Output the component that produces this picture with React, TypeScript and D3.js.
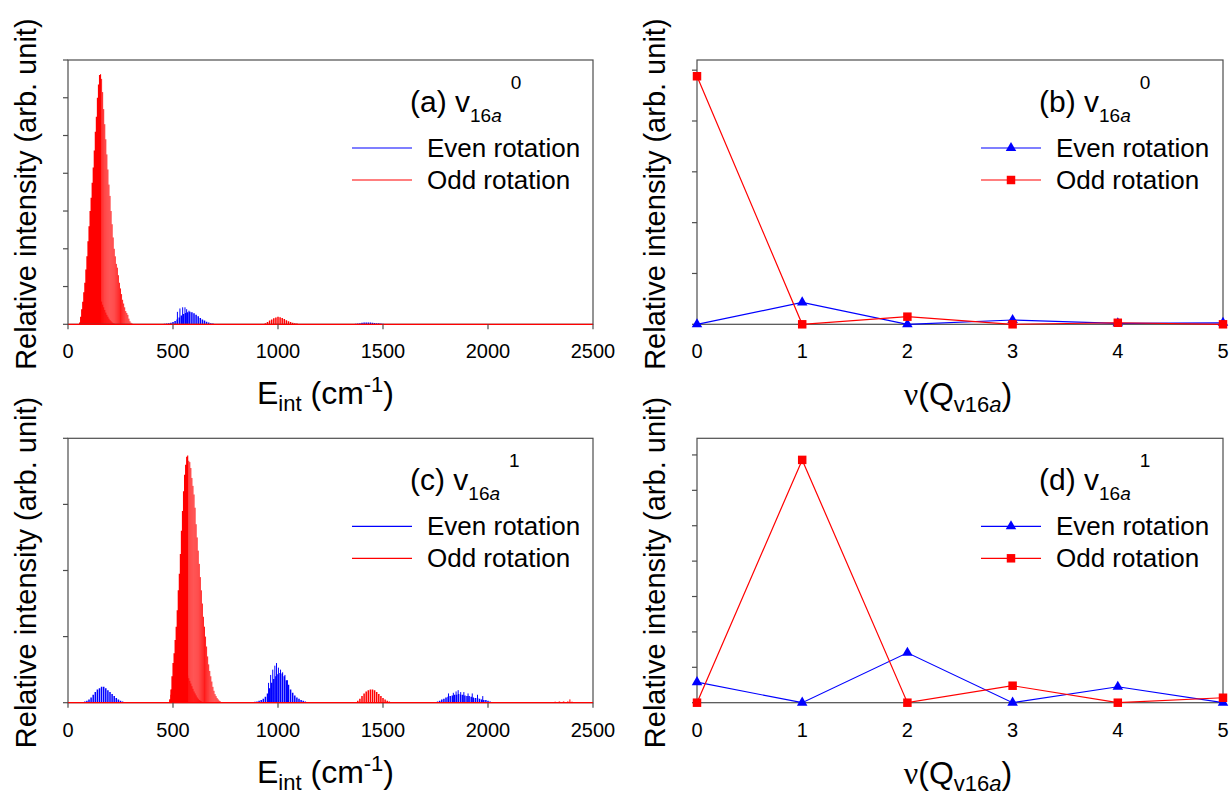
import React from 'react';
import * as d3 from 'd3';

const BLUE = '#0000ff';
const RED = '#ff0000';
const AXIS = '#4d4d4d';
const FONT = "'Liberation Sans', Arial, sans-serif";

// ---------- tick labels ----------
const energyTicks = [0, 500, 1000, 1500, 2000, 2500];
const quantumTicks = [0, 1, 2, 3, 4, 5];

// ---------- panel (a): v16a^0 stick spectra (heights in arb. units) ----------
// odd rotation, main band, 50..310 cm-1 every 5 cm-1
const oddA_main = [0, 0.05, 0.2, 0.4, 0.6, 0.85, 1.1, 1.45, 1.8, 2.2, 2.6, 3.0, 3.35, 3.75, 4.15, 4.6, 5.1, 5.5, 6.0, 6.35, 6.6, 6.62, 6.5, 6.15, 5.7, 5.3, 4.9, 4.5, 4.1, 3.7, 3.4, 3.0, 2.65, 2.3, 2.0, 1.8, 1.6, 1.5, 1.3, 1.1, 0.95, 0.8, 0.65, 0.55, 0.45, 0.35, 0.3, 0.25, 0.15, 0.08, 0.04, 0.02, 0];
// odd rotation, dense low component, 55..230 cm-1 every 5 cm-1
const oddA_base = [0, 0.05, 0.12, 0.2, 0.28, 0.36, 0.45, 0.52, 0.6, 0.66, 0.72, 0.78, 0.83, 0.87, 0.9, 0.9, 0.88, 0.85, 0.8, 0.74, 0.68, 0.6, 0.52, 0.45, 0.38, 0.31, 0.25, 0.2, 0.15, 0.11, 0.08, 0.05, 0.03, 0.02, 0.01, 0];
// odd rotation, 930..1100 cm-1 every 10 cm-1
const oddA_1000 = [0, 0.03, 0.06, 0.1, 0.13, 0.16, 0.18, 0.2, 0.19, 0.17, 0.14, 0.11, 0.08, 0.06, 0.04, 0.03, 0.02, 0.01];
// even rotation, 450..700 cm-1 every 10 cm-1
const evenA_560 = [0.01, 0.015, 0.02, 0.03, 0.04, 0.06, 0.09, 0.13, 0.18, 0.23, 0.27, 0.3, 0.32, 0.33, 0.32, 0.29, 0.25, 0.21, 0.17, 0.13, 0.1, 0.07, 0.05, 0.03, 0.02, 0.01];
// even rotation, 1360..1540 cm-1 every 10 cm-1
const evenA_1420 = [0.01, 0.015, 0.02, 0.03, 0.04, 0.045, 0.05, 0.05, 0.045, 0.04, 0.035, 0.03, 0.025, 0.02, 0.015, 0.01, 0.01, 0.005, 0.005];
// even rotation, isolated tall lines [cm-1, height]
const evenA_tall: [number, number][] = [[521, 0.33], [533, 0.42], [546, 0.45], [557, 0.45], [565, 0.4], [576, 0.36]];

// ---------- panel (c): v16a^1 stick spectra ----------
// odd rotation, main band, 480..735 every 5
const oddC_main = [0, 0.05, 0.2, 0.4, 0.6, 0.75, 0.95, 1.15, 1.4, 1.7, 1.95, 2.25, 2.6, 2.9, 3.2, 3.45, 3.6, 3.72, 3.74, 3.66, 3.64, 3.55, 3.4, 3.28, 3.15, 2.95, 2.7, 2.5, 2.3, 2.1, 1.9, 1.7, 1.5, 1.3, 1.15, 1.0, 0.85, 0.7, 0.58, 0.48, 0.4, 0.32, 0.24, 0.18, 0.13, 0.1, 0.07, 0.05, 0.03, 0.02, 0.01, 0];
// odd rotation, dense low component, 485..645 every 5
const oddC_base = [0.05, 0.12, 0.2, 0.26, 0.31, 0.35, 0.39, 0.42, 0.45, 0.47, 0.49, 0.5, 0.5, 0.5, 0.49, 0.47, 0.44, 0.41, 0.37, 0.33, 0.29, 0.25, 0.21, 0.17, 0.14, 0.11, 0.08, 0.06, 0.04, 0.03, 0.02, 0.01, 0];
// odd rotation, 1370..1540 every 10
const oddC_1440 = [0.01, 0.03, 0.06, 0.1, 0.14, 0.17, 0.19, 0.2, 0.2, 0.19, 0.16, 0.13, 0.1, 0.07, 0.05, 0.03, 0.02, 0.01];
// odd rotation, 2280..2420 every 20
const oddC_2350 = [0.005, 0.01, 0.015, 0.02, 0.02, 0.02, 0.015, 0.01];
const oddC_tall: [number, number][] = [[2390, 0.05]];
// even rotation, 60..280 every 10
const evenC_165 = [0.005, 0.01, 0.02, 0.03, 0.05, 0.08, 0.12, 0.16, 0.2, 0.22, 0.24, 0.24, 0.22, 0.19, 0.16, 0.13, 0.1, 0.07, 0.05, 0.03, 0.02, 0.01, 0.005];
// even rotation, 870..1150 every 10
const evenC_1010 = [0.005, 0.01, 0.015, 0.02, 0.03, 0.04, 0.06, 0.09, 0.14, 0.22, 0.3, 0.36, 0.4, 0.43, 0.45, 0.44, 0.4, 0.34, 0.27, 0.2, 0.15, 0.11, 0.08, 0.06, 0.04, 0.03, 0.02, 0.01, 0.005];
// even rotation, 1750..2020 every 10
const evenC_1860 = [0.01, 0.02, 0.03, 0.05, 0.06, 0.08, 0.09, 0.1, 0.11, 0.12, 0.12, 0.13, 0.12, 0.12, 0.11, 0.1, 0.1, 0.09, 0.08, 0.07, 0.07, 0.06, 0.05, 0.04, 0.04, 0.03, 0.02, 0.01];
const evenC_tall: [number, number][] = [[955, 0.3], [965, 0.42], [975, 0.5], [985, 0.56], [993, 0.6], [1002, 0.53], [1012, 0.5], [1022, 0.46], [1033, 0.42], [1045, 0.34], [1812, 0.14], [1835, 0.15], [1848, 0.17], [1858, 0.19], [1870, 0.16], [1885, 0.16], [1905, 0.14], [1925, 0.14], [1950, 0.12], [1975, 0.1]];

// ---------- panels (b), (d): populations vs v(Q_v16a) ----------
const evenB = [0, 0.43, 0, 0.085, 0.02, 0.03];
const oddB = [4.88, 0, 0.15, 0, 0.03, 0];
const evenD = [0.58, 0, 1.41, 0, 0.45, 0];
const oddD = [0, 6.86, 0, 0.48, 0, 0.14];

type Band = { series: 'even' | 'odd'; start: number; step: number; h: number[] };

const bandsA: Band[] = [
  { series: 'even', start: 450, step: 10, h: evenA_560 },
  { series: 'even', start: 1360, step: 10, h: evenA_1420 },
  { series: 'odd', start: 50, step: 5, h: oddA_main },
  { series: 'odd', start: 55, step: 5, h: oddA_base },
  { series: 'odd', start: 930, step: 10, h: oddA_1000 },
];
const bandsC: Band[] = [
  { series: 'even', start: 60, step: 10, h: evenC_165 },
  { series: 'even', start: 870, step: 10, h: evenC_1010 },
  { series: 'even', start: 1750, step: 10, h: evenC_1860 },
  { series: 'odd', start: 480, step: 5, h: oddC_main },
  { series: 'odd', start: 485, step: 5, h: oddC_base },
  { series: 'odd', start: 1370, step: 10, h: oddC_1440 },
  { series: 'odd', start: 2280, step: 20, h: oddC_2350 },
];

const LEFT = { x0: 68, x1: 593 };
const RIGHT = { x0: 697, x1: 1223 };
const TOP = { y0: 60, y1: 324.3 };
const BOTTOM = { y0: 438.3, y1: 702.7 };

function Title({ x, y, letter, sup }: { x: number; y: number; letter: string; sup: string }) {
  return (
    <text x={x} y={y} fontSize={30} fill="#000">
      {`(${letter}) v`}
      <tspan fontSize={19} dy={10}>
        16<tspan fontStyle="italic">a</tspan>
      </tspan>
      <tspan fontSize={19} dy={-33} dx={9}>{sup}</tspan>
    </text>
  );
}

function YLabel({ x0, y0, y1 }: { x0: number; y0: number; y1: number }) {
  return (
    <text transform={`translate(${x0 - 32},${(y0 + y1) / 2 + 2}) rotate(-90)`} textAnchor="middle" fontSize={29}>
      Relative intensity (arb. unit)
    </text>
  );
}

function Legend({ x0, y0, markers }: { x0: number; y0: number; markers: boolean }) {
  const tri = d3.symbol(d3.symbolTriangle, 48)() as string;
  const sq = d3.symbol(d3.symbolSquare, 72)() as string;
  const items = [
    { label: 'Even rotation', color: BLUE, yy: y0 + 88, m: tri },
    { label: 'Odd rotation', color: RED, yy: y0 + 120, m: sq },
  ];
  return (
    <g>
      {items.map((it) => (
        <g key={it.label}>
          <line x1={x0 + 284} x2={x0 + 344} y1={it.yy} y2={it.yy} stroke={it.color} strokeWidth={1.2} />
          {markers && <path d={it.m} transform={`translate(${x0 + 314},${it.yy})`} fill={it.color} />}
          <text x={x0 + 359} y={it.yy + 9} fontSize={26}>{it.label}</text>
        </g>
      ))}
    </g>
  );
}

function SpectrumPanel({ box, rows, yMax, bands, tallEven, tallOdd, letter, sup }: any) {
  const { x0, x1 } = box;
  const { y0, y1 } = rows;
  const x = d3.scaleLinear().domain([0, 2500]).range([x0, x1]);
  const y = d3.scaleLinear().domain([0, yMax]).range([y1, y0]);
  const yt = d3.range(0, Math.floor(yMax) + 1);
  // sticks of a band, split at its maximum: the falling flank is drawn finer (striated look)
  const bandPaths = (b: Band) => {
    const peak = d3.maxIndex(b.h);
    const stick = (v: number, i: number) => `M${x(b.start + i * b.step)},${y(0)}V${y(v)}`;
    const rise = b.h.map((v, i) => (i <= peak ? stick(v, i) : '')).join('');
    const fall = b.h.map((v, i) => (i > peak ? stick(v, i) : '')).join('');
    return { rise, fall };
  };
  const tallPath = (arr: [number, number][]) => arr.map(([e, v]) => `M${x(e)},${y(0)}V${y(v)}`).join('');
  const ordered = [...bands.filter((b: Band) => b.series === 'even'), ...bands.filter((b: Band) => b.series === 'odd')];
  return (
    <g>
      {ordered.map((b: Band, i: number) => {
        const col = b.series === 'even' ? BLUE : RED;
        const p = bandPaths(b);
        const fine = b.step < 10;
        return (
          <g key={i}>
            <path d={p.rise} stroke={col} strokeWidth={fine ? 1.1 : 1.5} fill="none" />
            <path d={p.fall} stroke={col} strokeWidth={fine ? 0.9 : 1.5} fill="none" />
          </g>
        );
      })}
      <path d={tallPath(tallEven)} stroke={BLUE} strokeWidth={1} fill="none" />
      <path d={tallPath(tallOdd)} stroke={RED} strokeWidth={1} fill="none" />
      <rect x={x0} y={y0} width={x1 - x0} height={y1 - y0} fill="none" stroke={AXIS} strokeWidth={1.2} />
      <line x1={x(0)} x2={x(2500)} y1={y(0)} y2={y(0)} stroke={RED} strokeWidth={1.3} />
      {yt.map((t) => (
        <line key={t} x1={x0 - 5} x2={x0} y1={y(t)} y2={y(t)} stroke={AXIS} strokeWidth={1.2} />
      ))}
      {energyTicks.map((t) => (
        <g key={t}>
          <line x1={x(t)} x2={x(t)} y1={y1} y2={y1 + 5} stroke={AXIS} strokeWidth={1.2} />
          <text x={x(t)} y={y1 + 34} textAnchor="middle" fontSize={20}>{t}</text>
        </g>
      ))}
      <text x={(x0 + x1) / 2 - 5} y={y1 + 80} textAnchor="middle" fontSize={32}>
        E<tspan fontSize={22} dy={7}>int</tspan>
        <tspan dy={-7}>{' (cm'}</tspan>
        <tspan fontSize={22} dy={-12}>-1</tspan>
        <tspan dy={12}>)</tspan>
      </text>
      <YLabel x0={x0} y0={y0} y1={y1} />
      <Title x={x0 + 342} y={y0 + 52} letter={letter} sup={sup} />
      <Legend x0={x0} y0={y0} markers={false} />
    </g>
  );
}

function LevelPanel({ box, rows, yMax, even, odd, letter, sup }: any) {
  const { x0, x1 } = box;
  const { y0, y1 } = rows;
  const x = d3.scaleLinear().domain([0, 5]).range([x0, x1]);
  const y = d3.scaleLinear().domain([0, yMax]).range([y1, y0]);
  const yt = d3.range(0, Math.floor(yMax) + 1);
  const line = d3.line<number>().x((_, i) => x(quantumTicks[i])).y((v) => y(v));
  const tri = d3.symbol(d3.symbolTriangle, 48)() as string;
  const sq = d3.symbol(d3.symbolSquare, 72)() as string;
  return (
    <g>
      <rect x={x0} y={y0} width={x1 - x0} height={y1 - y0} fill="none" stroke={AXIS} strokeWidth={1.2} />
      {yt.map((t) => (
        <line key={t} x1={x0 - 5} x2={x0} y1={y(t)} y2={y(t)} stroke={AXIS} strokeWidth={1.2} />
      ))}
      {quantumTicks.map((t) => (
        <text key={t} x={x(t)} y={y1 + 34} textAnchor="middle" fontSize={20}>{t}</text>
      ))}
      <path d={line(even) as string} fill="none" stroke={BLUE} strokeWidth={1.2} />
      {even.map((v: number, i: number) => (
        <path key={'e' + i} d={tri} transform={`translate(${x(quantumTicks[i])},${y(v)})`} fill={BLUE} />
      ))}
      <path d={line(odd) as string} fill="none" stroke={RED} strokeWidth={1.2} />
      {odd.map((v: number, i: number) => (
        <path key={'o' + i} d={sq} transform={`translate(${x(quantumTicks[i])},${y(v)})`} fill={RED} />
      ))}
      <text x={(x0 + x1) / 2 - 2} y={y1 + 81} textAnchor="middle" fontSize={32}>
        <tspan fontFamily="'Liberation Serif', serif">ν</tspan>(Q
        <tspan fontSize={22} dy={7}>v16<tspan fontStyle="italic">a</tspan></tspan>
        <tspan dy={-7}>)</tspan>
      </text>
      <YLabel x0={x0} y0={y0} y1={y1} />
      <Title x={x0 + 342} y={y0 + 52} letter={letter} sup={sup} />
      <Legend x0={x0} y0={y0} markers={true} />
    </g>
  );
}

export default function App() {
  return (
    <svg width={1230} height={797} viewBox="0 0 1230 797"
      style={{ position: 'absolute', left: 0, top: 0, display: 'block', background: '#fff' }}
      fontFamily={FONT}>
      <rect x={0} y={0} width={1230} height={797} fill="#fff" />
      <SpectrumPanel box={LEFT} rows={TOP} yMax={7} bands={bandsA} tallEven={evenA_tall} tallOdd={[]} letter="a" sup="0" />
      <LevelPanel box={RIGHT} rows={TOP} yMax={5.2} even={evenB} odd={oddB} letter="b" sup="0" />
      <SpectrumPanel box={LEFT} rows={BOTTOM} yMax={4} bands={bandsC} tallEven={evenC_tall} tallOdd={oddC_tall} letter="c" sup="1" />
      <LevelPanel box={RIGHT} rows={BOTTOM} yMax={7.47} even={evenD} odd={oddD} letter="d" sup="1" />
    </svg>
  );
}
